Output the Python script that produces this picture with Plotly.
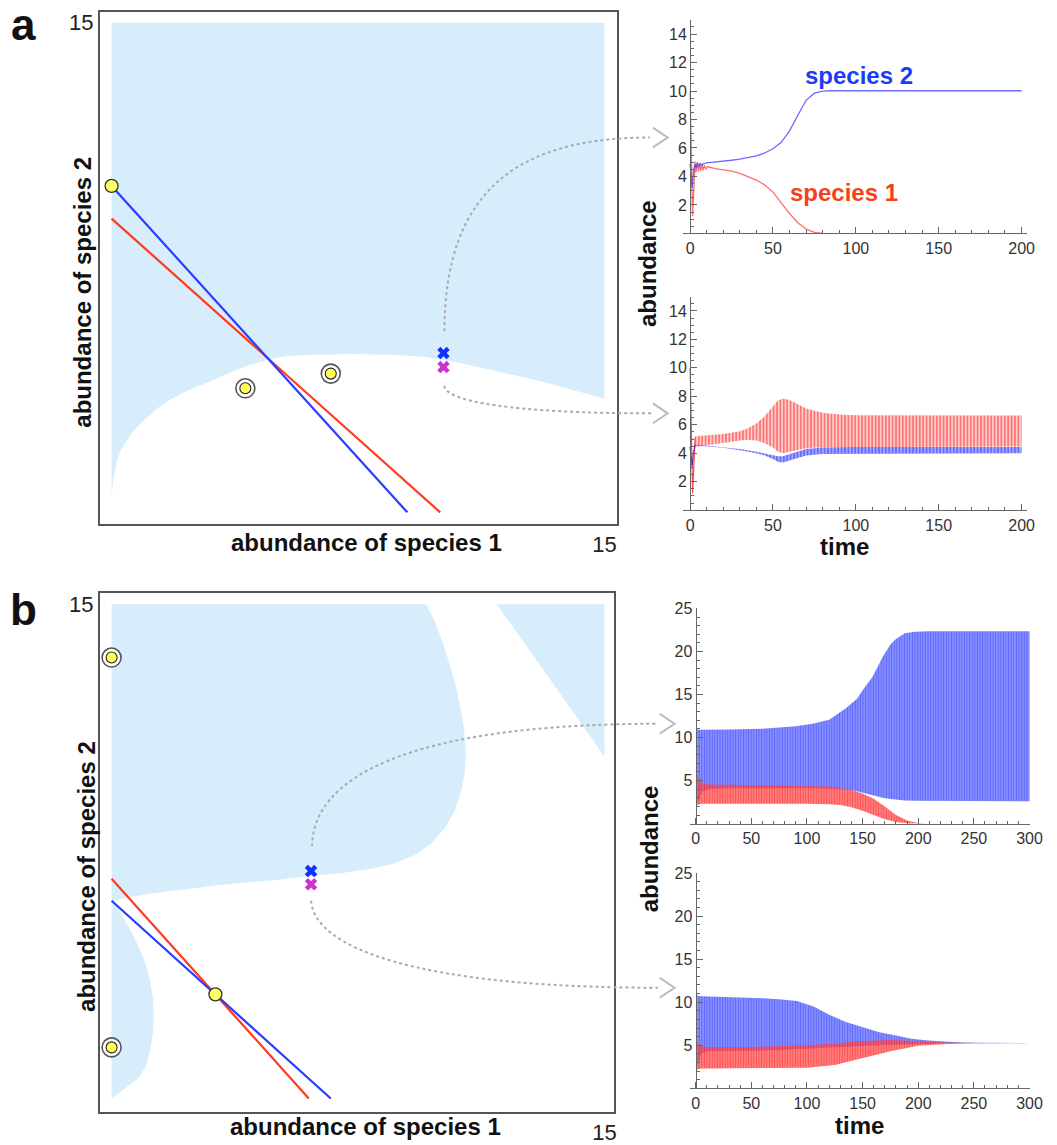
import plotly.graph_objects as go

W, H = 1057, 1145
FONT = "Liberation Sans, Arial, Helvetica, sans-serif"
BASIN = "#d8edfc"
RED = "#ff3a1f"
BLUE = "#2b3cff"
AX = "#666666"

# ---------------- phase plane (a) ----------------
sep_a_x = [0, 0.06, 0.15, 0.27, 0.45, 0.66, 0.96, 1.35, 1.77, 2.31, 2.91, 3.51, 4.12, 4.72,
           5.32, 6.22, 7.42, 8.63, 9.53, 10.43, 11.33, 12.23, 13.13, 14.03, 15]
sep_a_y = [0.52, 1.06, 1.52, 1.88, 2.18, 2.48, 2.79, 3.15, 3.45, 3.73, 3.97, 4.24, 4.48, 4.67,
           4.79, 4.83, 4.85, 4.82, 4.76, 4.61, 4.42, 4.21, 4.00, 3.76, 3.48]

null_a_sp1_x = [0, 10]
null_a_sp1_y = [9, 0]
null_a_sp2_x = [0, 9]
null_a_sp2_y = [10, 0]

eq_a_saddle_x = [0]
eq_a_saddle_y = [10]
eq_a_stable_x = [4.07, 6.67]
eq_a_stable_y = [3.80, 4.25]

start_a_x = [10.1, 10.1]
start_a_y = [4.88, 4.45]

# ---------------- phase plane (b) ----------------
sep_b1_x = [9.58, 9.83, 10.08, 10.28, 10.48, 10.63, 10.73, 10.78, 10.75, 10.63, 10.43, 10.13,
            9.73, 9.23, 8.63, 7.93, 7.02, 6.02, 5.02, 3.31, 2.20, 1.14, 0.50, 0.09, 0]
sep_b1_y = [15.0, 14.49, 13.84, 13.19, 12.49, 11.79, 11.19, 10.49, 9.89, 9.29, 8.69, 8.19,
            7.74, 7.39, 7.14, 6.97, 6.84, 6.74, 6.63, 6.48, 6.35, 6.21, 6.10, 6.03, 6.0]
sep_b2_x = [0, 0.09, 0.35, 0.60, 0.85, 1.05, 1.18, 1.26, 1.28, 1.26, 1.18, 1.05, 0.80, 0.39, 0.03, 0]
sep_b2_y = [6.0, 5.97, 5.50, 5.07, 4.55, 4.05, 3.55, 3.03, 2.50, 2.01, 1.50, 0.99, 0.60, 0.30, 0.03, 0]
basin_b3_x = [11.72, 15, 15]
basin_b3_y = [15, 15, 10.38]

null_b_sp1_x = [0, 6.0]
null_b_sp1_y = [6.67, 0]
null_b_sp2_x = [0, 6.67]
null_b_sp2_y = [6.0, 0]

eq_b_saddle_x = [3.16]
eq_b_saddle_y = [3.16]
eq_b_stable_x = [0, 0]
eq_b_stable_y = [13.38, 1.55]

start_b_x = [6.07, 6.07]
start_b_y = [6.9, 6.5]

# ---------------- time series (a), upper run ----------------
ta1_sp1 = [0, 0.5, 1.0, 1.5, 2.2, 3.0, 3.6, 4.3, 5.0, 5.7, 6.4, 7.1, 7.8, 8.6, 9.4, 10.5,
           15, 20, 25, 30, 35, 40, 45, 50, 55, 60, 65, 70, 75, 80]
va1_sp1 = [10.0, 6.0, 2.2, 1.2, 3.0, 5.05, 4.3, 5.0, 4.35, 4.9, 4.4, 4.85, 4.45, 4.8, 4.5, 4.7,
           4.55, 4.48, 4.37, 4.22, 4.0, 3.75, 3.4, 2.9, 2.15, 1.4, 0.75, 0.3, 0.07, 0.0]
ta1_sp2 = [0, 0.6, 1.2, 2.0, 2.8, 3.6, 4.4, 5.2, 6.0, 7.0, 8.0, 10, 15, 20, 25, 30, 35, 40,
           45, 50, 55, 60, 65, 70, 75, 80, 85, 100, 150, 200]
va1_sp2 = [4.9, 3.8, 3.2, 4.3, 4.85, 4.6, 4.95, 4.7, 4.9, 4.8, 4.9, 4.95, 5.0, 5.08, 5.14,
           5.22, 5.32, 5.45, 5.65, 5.95, 6.4, 7.2, 8.3, 9.35, 9.85, 10.0, 10.02, 10.02, 10.02, 10.02]

# ---------------- time series (a), lower run ----------------
ta2_sp1_start = [0, 0.5, 1.0, 1.5, 2.2, 3.0]
va2_sp1_start = [10.0, 6.0, 2.2, 1.2, 3.0, 5.1]
ta2_sp2_start = [0, 0.6, 1.2, 2.0, 3.0]
va2_sp2_start = [4.45, 3.6, 3.1, 4.0, 4.6]

ta2_sp1 = [3, 10, 20, 30, 35, 40, 45, 50, 53, 56, 60, 65, 70, 80, 90, 100, 150, 200]
hi2_sp1 = [5.2, 5.25, 5.35, 5.55, 5.75, 6.1, 6.6, 7.3, 7.7, 7.85, 7.75, 7.45, 7.15, 6.85, 6.72, 6.68, 6.65, 6.65]
lo2_sp1 = [4.45, 4.6, 4.75, 4.9, 4.95, 4.9, 4.7, 4.4, 4.1, 4.0, 4.1, 4.25, 4.35, 4.42, 4.45, 4.47, 4.47, 4.47]
ta2_sp2 = [3, 10, 20, 30, 40, 45, 50, 53, 56, 60, 65, 70, 80, 90, 100, 150, 200]
hi2_sp2 = [4.62, 4.55, 4.45, 4.3, 4.1, 3.98, 3.85, 3.8, 3.8, 3.95, 4.15, 4.3, 4.4, 4.44, 4.45, 4.45, 4.45]
lo2_sp2 = [4.55, 4.5, 4.38, 4.22, 4.0, 3.85, 3.6, 3.4, 3.35, 3.5, 3.7, 3.85, 3.95, 3.98, 4.0, 4.0, 4.0]

# ---------------- time series (b), upper run ----------------
tb1_sp2 = [0.5, 2, 5, 10, 30, 60, 90, 105, 120, 135, 145, 150, 159, 168, 175, 180, 188, 197, 210, 250, 300]
hib1_sp2 = [11.3, 10.9, 10.9, 10.9, 10.92, 11.03, 11.3, 11.6, 12.07, 13.4, 14.5, 15.5, 17.05, 19.35,
            20.8, 21.46, 22.1, 22.3, 22.35, 22.35, 22.35]
lob1_sp2 = [1.8, 2.5, 3.6, 4.0, 4.1, 4.1, 4.1, 4.1, 4.05, 3.95, 3.75, 3.6, 3.3, 3.0, 2.85, 2.78,
            2.7, 2.65, 2.6, 2.6, 2.6]
tb1_sp1 = [0.5, 2, 5, 10, 50, 100, 120, 130, 140, 150, 160, 170, 180, 190, 200, 210, 300]
hib1_sp1 = [6.0, 5.4, 4.7, 4.55, 4.5, 4.4, 4.3, 4.15, 3.9, 3.5, 2.9, 2.0, 1.0, 0.35, 0.08, 0.02, 0.02]
lob1_sp1 = [2.0, 2.2, 2.3, 2.3, 2.3, 2.3, 2.25, 2.15, 1.9, 1.5, 1.0, 0.5, 0.2, 0.05, 0.01, 0.0, 0.0]

# ---------------- time series (b), lower run ----------------
tb2_sp2 = [0.5, 2, 5, 10, 30, 61, 75, 91, 106, 120, 135, 150, 165, 180, 194, 209, 224, 239, 260, 300]
hib2_sp2 = [11.0, 10.75, 10.7, 10.68, 10.65, 10.46, 10.35, 10.15, 9.5, 8.54, 7.7, 7.13, 6.51, 6.13,
            5.75, 5.56, 5.44, 5.33, 5.28, 5.25]
lob2_sp2 = [1.8, 2.8, 4.0, 4.3, 4.35, 4.4, 4.45, 4.5, 4.6, 4.7, 4.8, 4.9, 5.0, 5.08, 5.13, 5.17,
            5.2, 5.22, 5.23, 5.24]
tb2_sp1 = [0.5, 2, 5, 10, 50, 100, 125, 150, 175, 200, 225, 250, 300]
hib2_sp1 = [6.0, 5.3, 4.9, 4.8, 4.8, 5.0, 5.2, 5.5, 5.6, 5.45, 5.32, 5.27, 5.25]
lob2_sp1 = [2.0, 2.2, 2.3, 2.3, 2.3, 2.4, 2.7, 3.5, 4.3, 4.95, 5.15, 5.22, 5.24]

tick_a = [2, 4, 6, 8, 10, 12, 14]
tick_b = [5, 10, 15, 20, 25]


def px(v):
    return v / W


def py(v):
    return 1 - v / H


fig = go.Figure()


def poly(xs, ys, xa, ya):
    fig.add_trace(go.Scatter(x=xs, y=ys, xaxis=xa, yaxis=ya, mode="lines", fill="toself",
                             fillcolor=BASIN, line=dict(width=0), hoverinfo="skip"))


def line(xs, ys, xa, ya, color, width=2.2):
    fig.add_trace(go.Scatter(x=xs, y=ys, xaxis=xa, yaxis=ya, mode="lines",
                             line=dict(color=color, width=width), hoverinfo="skip"))


def saddle(xs, ys, xa, ya):
    fig.add_trace(go.Scatter(x=xs, y=ys, xaxis=xa, yaxis=ya, mode="markers",
                             marker=dict(size=13, color="#ffff66", line=dict(color="#333", width=1.3)),
                             hoverinfo="skip"))


def stable(xs, ys, xa, ya):
    fig.add_trace(go.Scatter(x=xs, y=ys, xaxis=xa, yaxis=ya, mode="markers",
                             marker=dict(size=19, color="#ffffff", line=dict(color="#555", width=1.6)),
                             hoverinfo="skip"))
    fig.add_trace(go.Scatter(x=xs, y=ys, xaxis=xa, yaxis=ya, mode="markers",
                             marker=dict(size=11, color="#ffff55", line=dict(color="#222", width=1.1)),
                             hoverinfo="skip"))


def starts(xs, ys, xa, ya):
    # initial conditions of the two runs, drawn as small crosses
    fig.add_trace(go.Scatter(x=xs, y=ys, xaxis=xa, yaxis=ya, mode="markers",
                             marker=dict(symbol="x", size=11, color=["#1030ff", "#cc33cc"],
                                         line=dict(width=0)),
                             hoverinfo="skip"))


def band(t, lo, hi, xa, ya, fg, bg, size, solidity):
    fig.add_trace(go.Scatter(x=list(t) + list(t)[::-1], y=list(hi) + list(lo)[::-1],
                             xaxis=xa, yaxis=ya, mode="lines", fill="toself",
                             fillcolor=bg, line=dict(width=0),
                             fillpattern=dict(shape="|", fgcolor=fg, bgcolor=bg, size=size,
                                              solidity=solidity),
                             hoverinfo="skip"))


# phase plane (a): basin of attraction of the species-2 state
poly([0] + sep_a_x + [15, 0], [15] + sep_a_y + [15, 15], "x", "y")
line(null_a_sp1_x, null_a_sp1_y, "x", "y", RED)
line(null_a_sp2_x, null_a_sp2_y, "x", "y", BLUE)
saddle(eq_a_saddle_x, eq_a_saddle_y, "x", "y")
stable(eq_a_stable_x, eq_a_stable_y, "x", "y")
starts(start_a_x, start_a_y, "x", "y")

# phase plane (b)
poly([0] + sep_b1_x, [15] + sep_b1_y, "x2", "y2")
poly(sep_b2_x, sep_b2_y, "x2", "y2")
poly(basin_b3_x, basin_b3_y, "x2", "y2")
line(null_b_sp1_x, null_b_sp1_y, "x2", "y2", RED)
line(null_b_sp2_x, null_b_sp2_y, "x2", "y2", BLUE)
saddle(eq_b_saddle_x, eq_b_saddle_y, "x2", "y2")
stable(eq_b_stable_x, eq_b_stable_y, "x2", "y2")
starts(start_b_x, start_b_y, "x2", "y2")

# time series (a) upper
line(ta1_sp1, va1_sp1, "x3", "y3", "rgba(255,60,60,0.75)", 1.3)
line(ta1_sp2, va1_sp2, "x3", "y3", "rgba(60,60,255,0.75)", 1.3)

# time series (a) lower
line(ta2_sp1_start, va2_sp1_start, "x4", "y4", "rgba(255,40,40,0.85)", 1.2)
band(ta2_sp1, lo2_sp1, hi2_sp1, "x4", "y4", "rgba(255,15,15,1)", "rgba(255,190,190,0.5)", 3.4, 0.6)
line(ta2_sp2_start, va2_sp2_start, "x4", "y4", "rgba(40,40,255,0.85)", 1.2)
band(ta2_sp2, lo2_sp2, hi2_sp2, "x4", "y4", "rgba(30,40,255,1)", "rgba(120,130,255,0.6)", 3.4, 0.6)

# time series (b) upper
band(tb1_sp2, lob1_sp2, hib1_sp2, "x5", "y5", "rgba(30,40,255,0.95)", "rgba(120,130,255,0.8)", 2.6, 0.5)
band(tb1_sp1, lob1_sp1, hib1_sp1, "x5", "y5", "rgba(255,10,10,0.95)", "rgba(255,90,90,0.7)", 2.6, 0.5)

# time series (b) lower
band(tb2_sp2, lob2_sp2, hib2_sp2, "x6", "y6", "rgba(30,40,255,0.95)", "rgba(120,130,255,0.8)", 2.6, 0.5)
band(tb2_sp1, lob2_sp1, hib2_sp1, "x6", "y6", "rgba(255,10,10,0.95)", "rgba(255,90,90,0.7)", 2.6, 0.5)


def phase_x(dom, rng, anchor):
    return dict(domain=[px(dom[0]), px(dom[1])], range=rng, anchor=anchor, showgrid=False,
                zeroline=False, showline=True, mirror=True, linecolor="#555", linewidth=1.5,
                tickmode="array", tickvals=[15], ticktext=["15"], ticks="",
                tickfont=dict(size=22, family=FONT, color="#222"))


def phase_y(dom, rng, anchor):
    return dict(domain=[py(dom[1]), py(dom[0])], range=rng, anchor=anchor, showgrid=False,
                zeroline=False, showline=True, mirror=True, linecolor="#555", linewidth=1.5,
                tickmode="array", tickvals=[15], ticktext=["15"], ticks="",
                tickfont=dict(size=22, family=FONT, color="#222"))


def ts_x(dom, rng, major, minor, anchor):
    return dict(domain=[px(dom[0]), px(dom[1])], range=rng, anchor=anchor, showgrid=False,
                zeroline=False, showline=True, linecolor=AX, linewidth=1.2,
                ticks="inside", ticklen=6, tickcolor=AX, tickmode="linear", tick0=0, dtick=major,
                minor=dict(ticks="inside", ticklen=3, tickcolor=AX, tickmode="linear", tick0=0, dtick=minor),
                tickfont=dict(size=16, family=FONT, color="#333"))


def ts_y(dom, rng, vals, minor, pos):
    return dict(domain=[py(dom[1]), py(dom[0])], range=rng, anchor="free", position=px(pos),
                showgrid=False, zeroline=False, showline=True, linecolor=AX, linewidth=1.2,
                ticks="inside", ticklen=6, tickcolor=AX, tickmode="array", tickvals=vals,
                minor=dict(ticks="inside", ticklen=3, tickcolor=AX, tickmode="linear", tick0=0, dtick=minor),
                tickfont=dict(size=16, family=FONT, color="#333"))


fig.update_layout(
    width=W, height=H, margin=dict(l=0, r=0, t=0, b=0),
    paper_bgcolor="white", plot_bgcolor="rgba(0,0,0,0)", showlegend=False,
    xaxis=phase_x((101, 625), [-0.36, 15.39], "y"),
    yaxis=phase_y((4, 522), [-0.36, 15.33], "x"),
    xaxis2=phase_x((101, 622), [-0.36, 15.30], "y2"),
    yaxis2=phase_y((592, 1117), [-0.42, 15.33], "x2"),
    xaxis3=ts_x((692, 1040), [-4, 203.4], 50, 10, "y3"),
    yaxis3=ts_y((12, 228), [0, 15], tick_a, 0.5, 698.7),
    xaxis4=ts_x((692, 1040), [-4, 203.4], 50, 10, "y4"),
    yaxis4=ts_y((292, 508), [0, 15], tick_a, 0.5, 698.7),
    xaxis5=ts_x((698.7, 1043), [-5, 300.6], 50, 10, "y5"),
    yaxis5=ts_y((607.3, 825), [0, 25], tick_b, 1, 704.3),
    xaxis6=ts_x((698.7, 1043), [-5, 300.6], 50, 10, "y6"),
    yaxis6=ts_y((875, 1092.7), [0, 25], tick_b, 1, 704.3),
)


def label(text, x, y, size=24, color="#111", angle=0):
    fig.add_annotation(text=text, x=px(x), y=py(y), xref="paper", yref="paper", showarrow=False,
                       textangle=angle, xanchor="center", yanchor="middle",
                       font=dict(size=size, family=FONT, color=color, weight="bold"))


label("a", 24, 17, 44)
label("b", 24, 608, 44)
label("abundance of species 1", 371, 541)
label("abundance of species 1", 370, 1131)
label("abundance of species 2", 84, 287, angle=-90)
label("abundance of species 2", 87, 878, angle=-90)
label("abundance", 655, 258, angle=-90)
label("abundance", 657, 850, angle=-90)
label("time", 855, 545)
label("time", 870, 1130)
label("species 2", 870, 68, color="#1a3cf5")
label("species 1", 855, 187, color="#f5401a")


# dotted connectors from the starting points to the runs they produce
def curve(p0, p1, p2, p3):
    s = [f"{px(a):.5f} {py(b):.5f}" for a, b in (p0, p1, p2, p3)]
    fig.add_shape(type="path", xref="paper", yref="paper",
                  path=f"M {s[0]} C {s[1]}, {s[2]}, {s[3]}",
                  line=dict(color="#aaaaaa", width=2, dash="dot"))


def chevron(tip, w=15, h=10):
    a = (tip[0] - w, tip[1] - h)
    b = (tip[0] - w, tip[1] + h)
    fig.add_shape(type="path", xref="paper", yref="paper",
                  path=f"M {px(a[0]):.5f} {py(a[1]):.5f} L {px(tip[0]):.5f} {py(tip[1]):.5f} "
                       f"L {px(b[0]):.5f} {py(b[1]):.5f}",
                  line=dict(color="#bbbbbb", width=2))


curve((450, 327), (450, 180), (530, 131), (658, 131))
chevron((676, 131))
curve((450, 382), (450, 398), (520, 410), (660, 410))
chevron((676, 410))
curve((316, 848), (316, 780), (410, 724), (666, 724))
chevron((683, 724))
curve((315, 903), (318, 950), (420, 991), (666, 991))
chevron((683, 991))

fig.write_html("out.html", post_script="document.body.style.margin='0px';")
